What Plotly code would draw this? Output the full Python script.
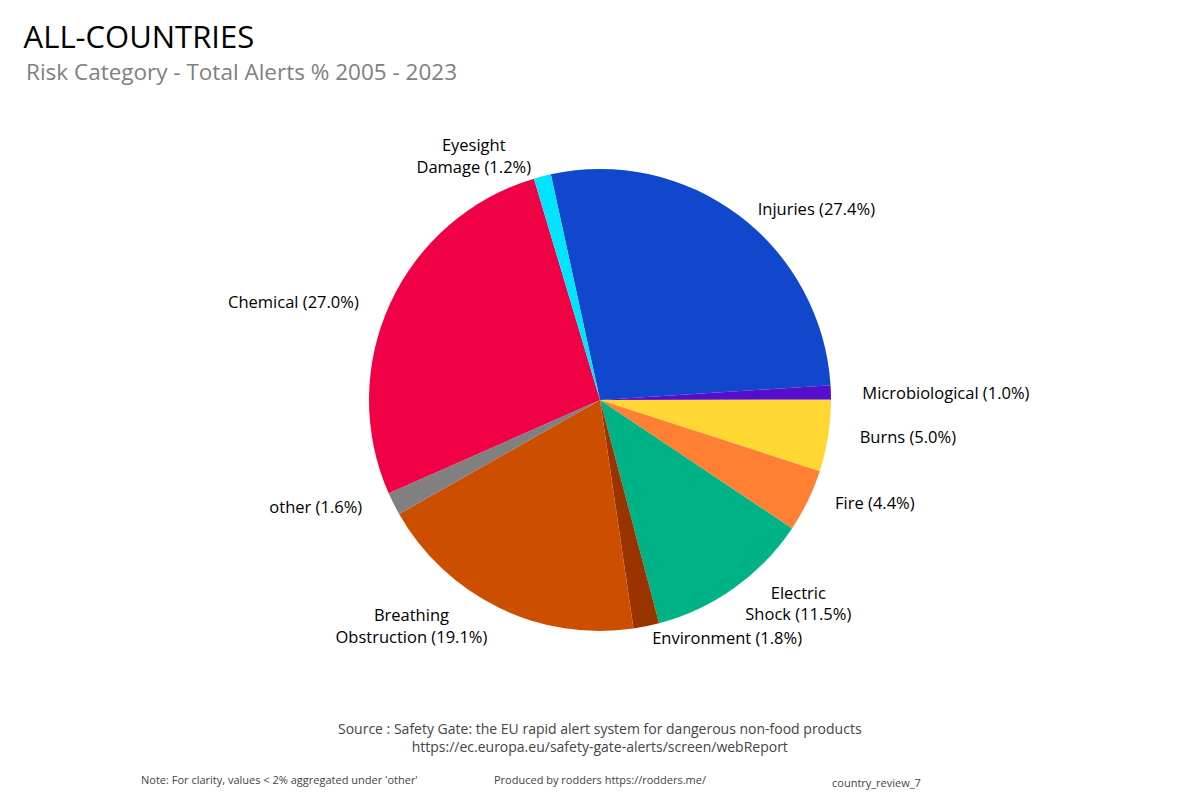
import plotly.graph_objects as go

categories = ['Injuries', 'Microbiological', 'Burns', 'Fire', 'Electric<br>Shock', 'Environment',
              'Breathing<br>Obstruction', 'other', 'Chemical', 'Eyesight<br>Damage']
values = [27.4, 1.0, 5.0, 4.4, 11.5, 1.8, 19.1, 1.6, 27.0, 1.2]
colours = ['#1047CC', '#550ECC', '#FFD733', '#FF8033', '#00B386', '#993300',
           '#CC4F00', '#808080', '#F00045', '#00E5FF']

labels = [f"{c} ({v:.1f}%)" for c, v in zip(categories, values)]

# push some outside labels a little further from the pie, like the original
lead = {'Injuries': 3, 'Microbiological': 6, 'Burns': 6, 'Fire': 5}
trail = {'Chemical': 6, 'other': 6}
texts = ['&nbsp;' * lead.get(c, 0) + lab + '&nbsp;' * trail.get(c, 0)
         for c, lab in zip(categories, labels)]

fig = go.Figure(go.Pie(labels=labels, values=values, text=texts, textinfo='text',
                       textposition='outside', sort=False, direction='clockwise', rotation=-12.3,
                       marker=dict(colors=colours, line=dict(width=0)), automargin=False,
                       textfont=dict(size=16.5, color='black'), showlegend=False,
                       hoverinfo='label+percent'))

note_font = dict(size=11, color='#444444', family='Open Sans')

fig.update_layout(
    width=1200, height=800,
    font=dict(family='Open Sans', size=16),
    title=dict(text="ALL-COUNTRIES", x=0.013, xanchor='left', y=0.9775, yanchor='top',
               font=dict(size=31, color='black')),
    margin=dict(l=92, r=108, t=161, b=177),
    paper_bgcolor='white', plot_bgcolor='white',
)

# plot area on the page: x 100..1100 px, y 169..631 px (page has 8px body margin)
fig.add_annotation(text="Risk Category - Total Alerts % 2005 - 2023",
                   x=-0.076, y=1.21, xref='paper', yref='paper', xanchor='left', yanchor='middle',
                   showarrow=False, font=dict(size=22.5, color='grey'))
fig.add_annotation(text="Source : Safety Gate: the EU rapid alert system for dangerous non-food products<br>"
                        "https://ec.europa.eu/safety-gate-alerts/screen/webReport",
                   x=0.5, y=-0.2316, xref='paper', yref='paper', yanchor='middle', showarrow=False,
                   font=dict(size=14, color='#444444', family='Open Sans'))
fig.add_annotation(text="Note: For clarity, values < 2% aggregated under 'other'",
                   x=0.039, y=-0.3225, xref='paper', yref='paper', xanchor='left',
                   yanchor='middle', showarrow=False, font=note_font)
fig.add_annotation(text="Produced by rodders https://rodders.me/",
                   x=0.392, y=-0.3225, xref='paper', yref='paper', xanchor='left',
                   yanchor='middle', showarrow=False, font=note_font)
fig.add_annotation(text="country_review_7",
                   x=0.73, y=-0.329, xref='paper', yref='paper', xanchor='left',
                   yanchor='middle', showarrow=False, font=note_font)

fig.write_html("out.html")
